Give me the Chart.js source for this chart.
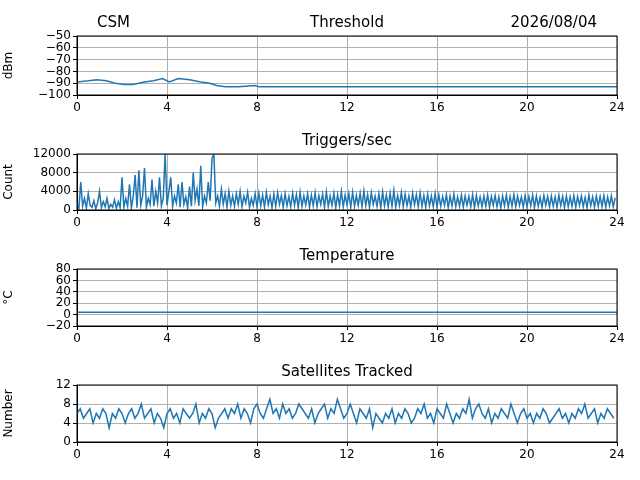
<!DOCTYPE html>
<html>
<head>
<meta charset="utf-8">
<script src="https://cdn.jsdelivr.net/npm/chart.js@4/dist/chart.umd.min.js"></script>
<style>
  body { margin: 0; background: #fff; width: 640px; height: 480px; position: relative; overflow: hidden; }
  canvas { position: absolute; left: 0; }
</style>
</head>
<body>
<canvas id="c1" style="top:6px"></canvas>
<canvas id="c2" style="top:124px"></canvas>
<canvas id="c3" style="top:239px"></canvas>
<canvas id="c4" style="top:355px"></canvas>
<script>
const hourTicks = [0, 4, 8, 12, 16, 20, 24]

// Threshold (dBm)
const threshHours = [0, 0.5, 0.9, 1.3, 1.7, 2.1, 2.5, 3.0, 3.4, 3.8, 4.1, 4.5, 5.0, 5.5, 5.9, 6.2, 6.6, 7.2, 7.9, 8.1, 24]
const threshDbm = [-89, -88, -87, -88, -90, -91, -91, -89, -88, -86, -89, -86, -87, -89, -90, -92, -93, -93, -92, -93, -93]

// Triggers/sec, 5 min samples
const trigEarly = [1500, 300, 6000, 800, 2500, 400, 3500, 1000, 600, 2000, 300, 1500,
  4000, 500, 1800, 700, 2500, 300, 1200, 600, 2200, 400, 1800, 500,
  7000, 600, 2500, 800, 5500, 400, 3000, 7500, 500, 8500, 1000, 3000,
  9000, 600, 2500, 1200, 6500, 800, 4000, 1500, 7000, 900, 2500, 12000,
  1000, 4000, 7000, 800, 3000, 1500, 5500, 600, 6000, 1200, 2800, 500,
  5000, 800, 8000, 2000, 4500, 900, 9500, 700, 3000, 1500, 6000, 2000,
  11000, 12000, 1500, 3000, 800, 4500, 1200, 3500, 600, 4000, 1000, 3000,
  800, 3500, 1200, 4000, 700, 3000, 1500, 3800, 600, 2500, 1000, 3500]
const trigLate = [700, 3600, 900, 3200, 600, 3800, 1100, 3000, 500, 3400, 800, 3700,
  1200, 3100, 600, 3500, 900, 2900, 700, 3600, 1000, 3300, 500, 3800,
  800, 3000, 1100, 3500, 600, 3200, 900, 3700, 700, 3100, 1200, 3400,
  600, 3900, 800, 3000, 1000, 3600, 500, 3300, 900, 4000, 700, 3200,
  1100, 3500, 600, 3800, 800, 3100, 1000, 3600, 700, 4100, 900, 3300,
  600, 3700, 1200, 3000, 800, 3500, 500, 3900, 900, 3200, 700, 3600,
  800, 4200, 600, 3100, 1000, 3800, 700, 3400, 900, 3000, 600, 3600,
  1100, 3300, 700, 3700, 800, 3100, 600, 3400, 900, 3000, 700, 3500,
  600, 3200, 800, 2900, 1000, 3300, 500, 3000, 900, 3400, 700, 2800,
  800, 3200, 600, 3000, 1000, 2900, 700, 3300, 500, 3100, 900, 2800,
  700, 3000, 800, 3200, 600, 2900, 1000, 3100, 700, 2800, 500, 3000,
  900, 3200, 600, 2900, 800, 3300, 700, 3000, 1000, 2800, 600, 3100,
  700, 2900, 900, 3200, 500, 3000, 800, 2700, 600, 3100, 1000, 2900,
  700, 3000, 800, 2800, 600, 3200, 900, 2900, 500, 3000, 700, 2800,
  800, 3100, 600, 2900, 1000, 3000, 700, 2700, 500, 3200, 900, 2800,
  600, 3000, 800, 2900, 700, 3100, 600, 2800, 900, 3000, 700, 2600]
const trigCounts = trigEarly.concat(trigLate)

// Temperature (°C)
const tempHours = [0, 24]
const tempC = [4, 4]

// Satellites tracked, 10 min samples
const satCounts = [6, 7, 5, 6, 7, 4, 6, 5, 7, 6, 3, 6, 5, 7, 6, 4, 6, 7, 5, 6, 8, 5, 6, 7,
  4, 6, 5, 3, 6, 7, 5, 6, 4, 7, 6, 5, 6, 8, 4, 6, 5, 7, 6, 3, 5, 6, 7, 5,
  7, 6, 8, 5, 7, 6, 4, 7, 8, 6, 5, 7, 9, 6, 7, 5, 8, 6, 7, 5, 6, 8, 7, 6,
  5, 7, 4, 6, 7, 8, 5, 7, 6, 9, 7, 5, 6, 8, 6, 4, 7, 6, 5, 7, 3, 6, 5, 4,
  6, 5, 7, 4, 6, 5, 7, 6, 4, 5, 7, 6, 8, 5, 6, 4, 7, 6, 5, 8, 6, 4, 6, 5,
  7, 6, 9, 5, 7, 8, 6, 5, 7, 4, 6, 5, 7, 6, 5, 8, 6, 4, 6, 7, 5, 6, 4, 6,
  5, 7, 6, 4, 5, 6, 7, 5, 6, 4, 6, 5, 7, 6, 8, 5, 6, 7, 4, 6, 5, 7, 6, 5]

function spread(values, dt) {
  return values.map((v, i) => ({ x: i * dt, y: v }))
}

const fontFam = '"DejaVu Sans", sans-serif'
const blue = '#1f77b4'
const minus = v => String(v).replace('-', '\u2212')

function titlePlugin(texts) {
  return {
    id: 'titles',
    afterDraw(chart) {
      const { ctx, chartArea } = chart
      ctx.save()
      ctx.fillStyle = '#000'
      ctx.font = '15px ' + fontFam
      ctx.textBaseline = 'bottom'
      texts.forEach(t => {
        ctx.textAlign = t.align
        const x = t.align === 'left' ? chartArea.left + 20 : t.align === 'right' ? chartArea.right - 20 : (chartArea.left + chartArea.right) / 2
        ctx.fillText(t.text, x, chartArea.top - 5)
      })
      ctx.restore()
    }
  }
}

function makeChart(id, plotH, points, yMin, yMax, yStep, yTitle, titles) {
  const cv = document.getElementById(id)
  cv.width = 640
  cv.height = 30 + plotH + 30
  cv.style.width = '640px'
  cv.style.height = cv.height + 'px'
  return new Chart(cv, {
    type: 'scatter',
    data: { datasets: [{ data: points, showLine: true, borderColor: blue, borderWidth: 1.5, pointRadius: 0, tension: 0 }] },
    options: {
      responsive: false, animation: false,
      layout: { padding: { top: 30, right: 23, left: 0, bottom: 0 } },
      plugins: { legend: { display: false }, tooltip: { enabled: false } },
      scales: {
        x: {
          type: 'linear', min: 0, max: 24,
          afterBuildTicks: ax => { ax.ticks = hourTicks.map(v => ({ value: v })) },
          afterFit: ax => { ax.height = 30 },
          grid: { color: '#b0b0b0', tickColor: '#000', tickLength: 4 },
          border: { color: '#000' },
          ticks: { autoSkip: false, color: '#000', font: { family: fontFam, size: 12 }, maxRotation: 0, padding: 2 }
        },
        y: {
          min: yMin, max: yMax,
          afterFit: ax => { ax.width = 77 },
          grid: { color: '#b0b0b0', tickColor: '#000', tickLength: 4 },
          border: { color: '#000' },
          ticks: { autoSkip: false, stepSize: yStep, color: '#000', font: { family: fontFam, size: 12 }, padding: 2, callback: v => minus(v) },
          title: { display: true, text: yTitle, color: '#000', font: { family: fontFam, size: 12 }, padding: 2 }
        }
      }
    },
    plugins: [titlePlugin(titles), {
      id: 'frame',
      afterDraw(chart) {
        const { ctx, chartArea: a } = chart
        ctx.save(); ctx.strokeStyle = '#000'; ctx.lineWidth = 1
        ctx.strokeRect(a.left, a.top, a.right - a.left, a.bottom - a.top); ctx.restore()
      }
    }]
  })
}

makeChart('c1', 59, threshHours.map((h, i) => ({ x: h, y: threshDbm[i] })), -100, -50, 10, 'dBm',
  [{ text: 'CSM', align: 'left' }, { text: 'Threshold', align: 'center' }, { text: '2026/08/04', align: 'right' }])
makeChart('c2', 56, spread(trigCounts, 1 / 12), 0, 12000, 4000, 'Count', [{ text: 'Triggers/sec', align: 'center' }])
makeChart('c3', 57, tempHours.map((h, i) => ({ x: h, y: tempC[i] })), -20, 80, 20, '\u00B0C', [{ text: 'Temperature', align: 'center' }])
makeChart('c4', 57, spread(satCounts, 1 / 7), 0, 12, 4, 'Number', [{ text: 'Satellites Tracked', align: 'center' }])
</script>
</body>
</html>
